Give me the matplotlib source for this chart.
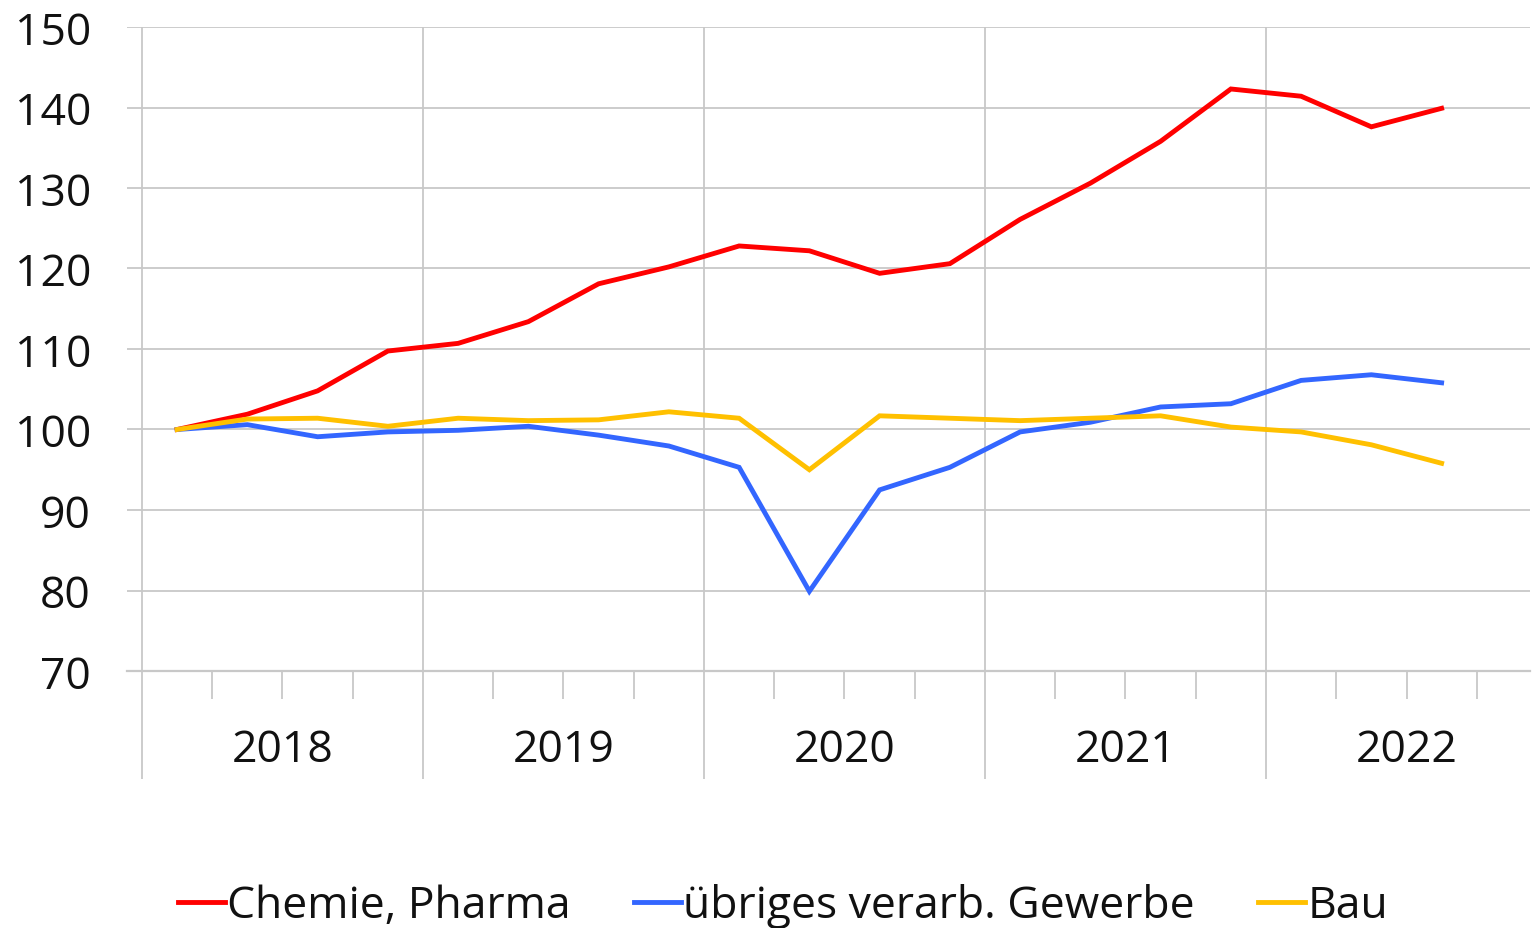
import matplotlib
matplotlib.use("Agg")
import matplotlib.pyplot as plt
import matplotlib.transforms as mtransforms

plt.rcParams['font.family'] = ['Open Sans', 'DejaVu Sans']

quarters = ["2018Q1", "2018Q2", "2018Q3", "2018Q4",
            "2019Q1", "2019Q2", "2019Q3", "2019Q4",
            "2020Q1", "2020Q2", "2020Q3", "2020Q4",
            "2021Q1", "2021Q2", "2021Q3", "2021Q4",
            "2022Q1", "2022Q2", "2022Q3"]
years = ["2018", "2019", "2020", "2021", "2022"]

chemie = [100, 101.9, 104.8, 109.75, 110.7, 113.4, 118.1, 120.2, 122.8, 122.2,
          119.4, 120.6, 126.1, 130.6, 135.8, 142.3, 141.4, 137.6, 139.9]
uebrige = [100, 100.6, 99.1, 99.7, 99.9, 100.4, 99.3, 97.95, 95.3, 79.9,
           92.5, 95.3, 99.7, 100.9, 102.8, 103.2, 106.1, 106.8, 105.8]
bau = [100, 101.3, 101.4, 100.4, 101.4, 101.1, 101.2, 102.2, 101.4, 95.0,
       101.7, 101.4, 101.1, 101.4, 101.7, 100.3, 99.7, 98.1, 95.8]

labels = ["Chemie, Pharma", "übriges verarb. Gewerbe", "Bau"]
colors = ["#FF0000", "#3366FF", "#FFC000"]

W, H = 1532, 929
fig = plt.figure(figsize=(W / 100, H / 100), dpi=100)
ax = fig.add_axes([127 / W, 1 - 672 / H, (1530 - 127) / W, (672 - 28) / H])

x = list(range(len(quarters)))
series = [chemie, uebrige, bau]
handles = []
for vals, lab, col in zip(series, labels, colors):
    h, = ax.plot(x, vals, color=col, lw=3.5, solid_joinstyle='miter', zorder=3, label=lab)
    handles.append(h)

ax.set_ylim(70, 150)
ax.set_xlim(-0.7135, 19.258)
ax.set_yticks(range(70, 151, 10))
ax.yaxis.grid(True, color='#C8C8C8', lw=1.3)
ax.tick_params(axis='y', length=0, pad=26, labelsize=32, labelcolor='#111111')

grid_col = '#C8C8C8'
for s in ax.spines.values():
    s.set_visible(False)
ax.axhline(70, color=grid_col, lw=1.6, zorder=2, clip_on=False)

# year boundaries: major ticks, quarter boundaries: minor ticks
n_years = len(years)
major = [4 * i - 0.5 for i in range(n_years)]
minor = [q - 0.5 for q in range(1, len(quarters) + 1) if (q % 4) != 0]
ax.set_xticks(major)
ax.set_xticks(minor, minor=True)
ax.set_xticklabels([])
ax.tick_params(axis='x', which='major', length=108 * 0.72, width=1.3, color=grid_col, direction='out')
ax.tick_params(axis='x', which='minor', length=28 * 0.72, width=1.3, color=grid_col, direction='out')
ax.xaxis.grid(True, which='major', color=grid_col, lw=1.3)

trans = mtransforms.blended_transform_factory(ax.transData, ax.transAxes)
for i, yr in enumerate(years):
    ax.text(4 * i + 1.5, -(751 - 672) / (672 - 28), yr, transform=trans,
            ha='center', va='center', fontsize=32, color='#111111')

fig.legend(handles=handles, labels=labels, loc='center', bbox_to_anchor=(783 / W, 1 - 907 / H),
           ncol=3, frameon=False, fontsize=32, handlelength=1.06, handletextpad=0.05,
           columnspacing=1.42, labelcolor='#111111')

fig.savefig("out.png", dpi=100)
